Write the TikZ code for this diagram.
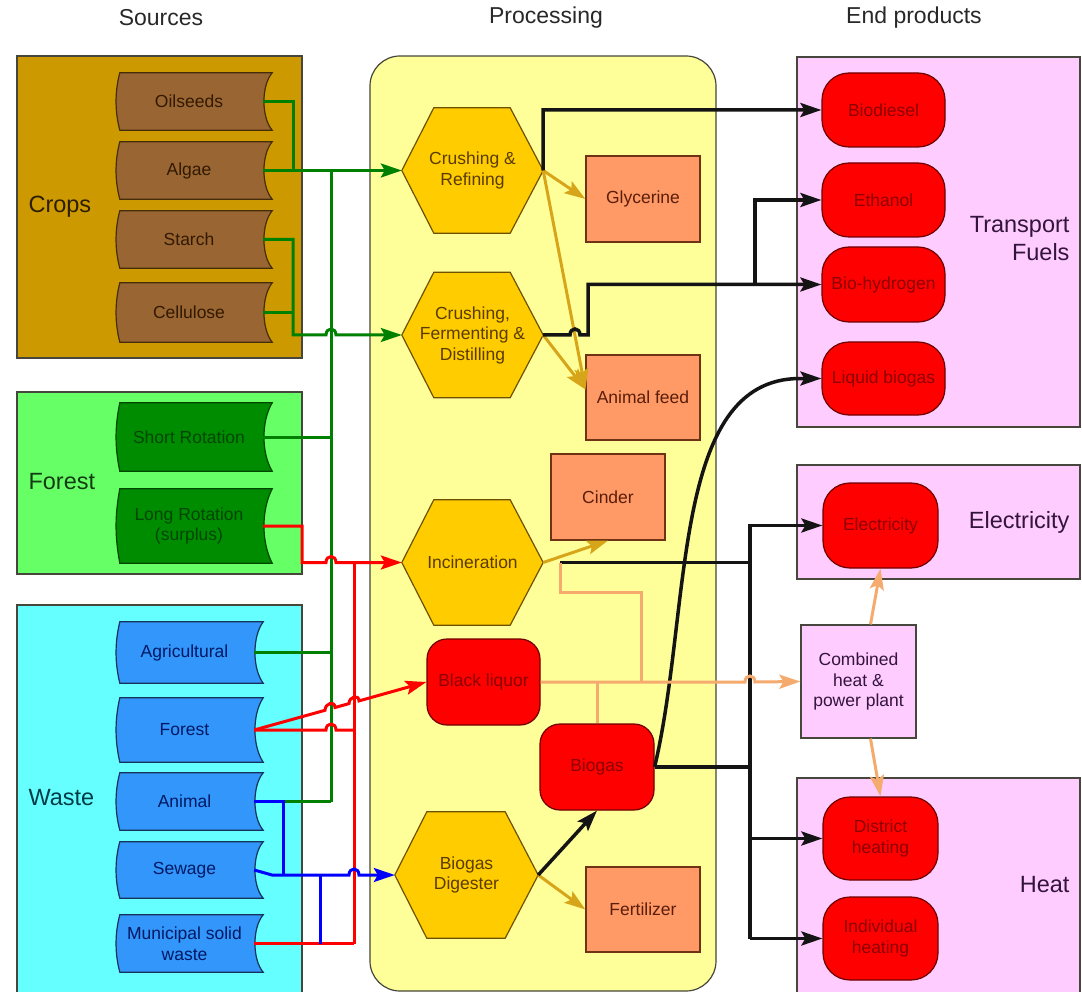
\documentclass[tikz,border=0pt]{standalone}
\usepackage{fontspec}
\setmainfont{Liberation Sans}
\usetikzlibrary{arrows.meta,calc}
\pgfdeclarelayer{back}
\pgfdeclarelayer{mid}
\pgfsetlayers{back,mid,main}
\definecolor{cropbg}{RGB}{204,153,0}
\definecolor{cropit}{RGB}{153,102,51}
\definecolor{cropedge}{RGB}{70,45,10}
\definecolor{croptext}{RGB}{50,25,0}
\definecolor{forbg}{RGB}{102,255,102}
\definecolor{forit}{RGB}{0,140,0}
\definecolor{foredge}{RGB}{0,70,0}
\definecolor{fortext}{RGB}{0,70,0}
\definecolor{wasbg}{RGB}{102,255,255}
\definecolor{wasit}{RGB}{51,150,250}
\definecolor{wasedge}{RGB}{20,50,90}
\definecolor{wastext}{RGB}{0,25,100}
\definecolor{procbg}{RGB}{255,255,153}
\definecolor{hexfill}{RGB}{255,204,0}
\definecolor{hexedge}{RGB}{110,80,0}
\definecolor{hextext}{RGB}{90,60,0}
\definecolor{orbox}{RGB}{255,153,102}
\definecolor{obedge}{RGB}{110,50,20}
\definecolor{obtext}{RGB}{90,30,10}
\definecolor{endbg}{RGB}{255,204,255}
\definecolor{endtext}{RGB}{50,20,60}
\definecolor{redfill}{RGB}{255,0,0}
\definecolor{rededge}{RGB}{110,0,0}
\definecolor{redtext}{RGB}{140,0,0}
\definecolor{edge}{RGB}{70,70,60}
\definecolor{lgreen}{RGB}{0,128,0}
\definecolor{lred}{RGB}{255,0,0}
\definecolor{lblue}{RGB}{0,0,255}
\definecolor{lgold}{RGB}{215,165,25}
\definecolor{lpeach}{RGB}{245,170,110}
\definecolor{lblack}{RGB}{20,20,20}
\newcommand\smallfs{\fontsize{17.5}{20.5}\selectfont}
\newcommand\bigfs{\fontsize{23.5}{28}\selectfont}
\newcommand\stshape[3]{%
\begin{pgfonlayer}{mid}
\filldraw[fill=#2,draw=#3,line width=1.2pt]
 ($(#1.north west)+(5,0)$) -- ($(#1.north east)+(9,0)$)
 .. controls ($(#1.east)+(-2,-16)$) and ($(#1.east)+(-2,16)$) .. ($(#1.south east)+(9,0)$)
 -- ($(#1.south west)+(5,0)$)
 .. controls ($(#1.west)+(0,10)$) and ($(#1.west)+(0,-10)$) .. cycle;
\end{pgfonlayer}}
\newcommand\hexshape[1]{%
\begin{pgfonlayer}{mid}
\filldraw[fill=hexfill,draw=hexedge,line width=1.2pt]
 (#1.west) -- ($(#1.north west)+(32,0)$) -- ($(#1.north east)+(-33,0)$) -- (#1.east)
 -- ($(#1.south east)+(-33,0)$) -- ($(#1.south west)+(32,0)$) -- cycle;
\end{pgfonlayer}}
\begin{document}
\begin{tikzpicture}[x=1pt,y=-1pt,
  grp/.style={rectangle,draw=edge,line width=1.2pt,inner sep=0pt},
  title/.style={font=\fontsize{23}{27}\selectfont,text={rgb,255:red,40;green,40;blue,40}},
  biglab/.style={font=\bigfs,align=center},
  st/.style={rectangle,inner sep=0pt,minimum width=148pt,font=\smallfs,align=center},
  wst/.style={st,minimum width=139pt,text=wastext},
  hx/.style={rectangle,inner sep=0pt,minimum width=141pt,minimum height=125pt,font=\smallfs,align=center,text=hextext},
  ob/.style={rectangle,draw=obedge,fill=orbox,line width=1.2pt,minimum width=114pt,minimum height=86pt,font=\smallfs,text=obtext},
  rn/.style={rectangle,rounded corners=20pt,draw=rededge,fill=redfill,line width=1.2pt,font=\smallfs,text=redtext,align=center,minimum width=114pt,minimum height=86pt},
  en/.style={rectangle,rounded corners=27pt,draw=rededge,fill=redfill,line width=1.2pt,font=\smallfs,text=redtext,align=center,minimum width=123pt},
  eh/.style={en,minimum width=115pt,minimum height=84pt},
  arr/.style={-{Stealth[length=21pt,width=14pt,inset=4pt]}},
  gl/.style={draw=lgreen,line width=3pt},
  rl/.style={draw=lred,line width=3pt},
  bl/.style={draw=lblue,line width=3pt},
  kl/.style={draw=lblack,line width=3.5pt},
  gol/.style={draw=lgold,line width=3pt},
  pl/.style={draw=lpeach,line width=3pt}]
\useasboundingbox (0,0) rectangle (1082,992);
\begin{pgfonlayer}{back}
\fill[white] (0,0) rectangle (1082,992);
\node[grp,fill=cropbg,minimum width=285pt,minimum height=302pt] (gcrops) at (159.5,207) {};
\node[grp,fill=forbg,minimum width=285pt,minimum height=182pt] (gforest) at (159.5,483) {};
\node[grp,fill=wasbg,minimum width=285pt,minimum height=389pt] (gwaste) at (159.5,799.5) {};
\node[grp,fill=procbg,rounded corners=30pt,minimum width=346pt,minimum height=935pt] (gproc) at (543,523.5) {};
\node[grp,fill=endbg,minimum width=283pt,minimum height=370pt] (gtrans) at (938.5,242) {};
\node[grp,fill=endbg,minimum width=283pt,minimum height=114pt] (gelec) at (938.5,522) {};
\node[grp,fill=endbg,minimum width=283pt,minimum height=216pt] (gheat) at (938.5,886) {};
\end{pgfonlayer}

% titles
\node[title] (tsrc) at (161,18) {Sources};
\node[title] (tproc) at (546,18) {Processing};
\node[title] (tend) at (914,18) {End products};

% group labels
\node[biglab,anchor=west,text={rgb,255:red,45;green,30;blue,0}] (lcrops) at (25,207) {Crops};
\node[biglab,anchor=west,text={rgb,255:red,20;green,60;blue,20}] (lforest) at (25,482) {Forest};
\node[biglab,anchor=west,text={rgb,255:red,0;green,60;blue,70}] (lwaste) at (25,798) {Waste};
\node[biglab,anchor=east,align=right,text=endtext] (ltrans) at (1073,239) {Transport\\Fuels};
\node[biglab,anchor=east,text=endtext] (lelec) at (1073,522) {Electricity};
\node[biglab,anchor=east,text=endtext] (lheat) at (1073,885) {Heat};

% sources
\node[st,minimum height=57pt,text=croptext] (oil) at (189,101.5) {Oilseeds};
\node[st,minimum height=57pt,text=croptext] (alg) at (189,170.5) {Algae};
\node[st,minimum height=57pt,text=croptext] (sta) at (189,239.5) {Starch};
\node[st,minimum height=59pt,text=croptext] (cel) at (189,312.5) {Cellulose};
\node[st,minimum height=68pt,text=fortext] (sr) at (189,437) {Short Rotation};
\node[st,minimum height=74pt,text=fortext] (lr) at (189,526) {Long Rotation\\(surplus)};
\node[wst,minimum height=61pt] (agr) at (184.5,652.5) {Agricultural};
\node[wst,minimum height=64pt] (wf) at (184.5,730) {Forest};
\node[wst,minimum height=57pt] (ani) at (184.5,801.5) {Animal};
\node[wst,minimum height=56pt] (sew) at (184.5,870) {Sewage};
\node[wst,minimum height=57pt] (mun) at (184.5,943.5) {Municipal solid\\waste};
\stshape{oil}{cropit}{cropedge}
\stshape{alg}{cropit}{cropedge}
\stshape{sta}{cropit}{cropedge}
\stshape{cel}{cropit}{cropedge}
\stshape{sr}{forit}{foredge}
\stshape{lr}{forit}{foredge}
\stshape{agr}{wasit}{wasedge}
\stshape{wf}{wasit}{wasedge}
\stshape{ani}{wasit}{wasedge}
\stshape{sew}{wasit}{wasedge}
\stshape{mun}{wasit}{wasedge}

% processing
\node[hx] (cr) at (472.5,170.5) {Crushing \&\\Refining};
\node[hx] (cfd) at (472.5,335) {Crushing,\\Fermenting \&\\Distilling};
\node[hx] (inc) at (472.5,562.5) {Incineration};
\node[hx,minimum width=143pt,minimum height=126pt] (bd) at (466.5,875) {Biogas\\Digester};
\hexshape{cr}
\hexshape{cfd}
\hexshape{inc}
\hexshape{bd}
\node[ob] (gly) at (643,199) {Glycerine};
\node[ob,minimum height=85pt] (af) at (643,397.5) {Animal feed};
\node[ob] (cin) at (608,497) {Cinder};
\node[ob,minimum height=85pt] (fer) at (643,909.5) {Fertilizer};
\node[rn,minimum width=113pt] (bl) at (483.5,682) {Black liquor};
\node[rn] (bg) at (597,767) {Biogas};

% end products
\node[en,minimum height=74pt] (bio) at (883.5,110) {Biodiesel};
\node[en,minimum height=74pt] (eth) at (883.5,200) {Ethanol};
\node[en,minimum height=75pt] (bh) at (883.5,284.5) {Bio-hydrogen};
\node[en,minimum height=73pt] (lb) at (883.5,378.5) {Liquid biogas};
\node[eh,minimum height=85pt] (el) at (880.5,525.5) {Electricity};
\node[eh,minimum height=83pt] (dh) at (880.5,838.5) {District\\heating};
\node[eh,minimum height=83pt] (ih) at (880.5,938.5) {Individual\\heating};
\node[rectangle,draw=edge,fill=endbg,line width=1.2pt,minimum width=115pt,minimum height=113pt,font=\smallfs,align=center,text=endtext] (chp) at (858.5,681.5) {Combined\\heat \&\\power plant};

% green connectors
\draw[gl] (oil.east) -- (293,101.5) -- (293,170.5);
\draw[gl] (cel.east) -- (293,312.5);
\draw[gl] (331,170.5) -- (331,801.5);
\draw[gl] (sr.east) -- (331,437);
\draw[gl] (agr.east) -- (331,652.5);
\draw[gl] (ani.east) -- (331,801.5);
\draw[gl,arr] (alg.east) -- (cr.west);
\draw[gl,arr] (sta.east) -- (293,239.5) -- (293,335) -- (326,335) .. controls (326,327) and (336,327) .. (336,335) -- (cfd.west);

% red connectors
\draw[rl,arr] (lr.east) -- (302,526) -- (302,562.5) -- (326,562.5) .. controls (326,554.5) and (336,554.5) .. (336,562.5) -- (inc.west);
\draw[rl] (354,562.5) -- (354,943.5);
\draw[rl] (mun.east) -- (354,943.5);
\draw[rl] (wf.east) -- (326,730) .. controls (326,722) and (336,722) .. (336,730) -- (354,730);
\draw[rl,arr] (wf.east) -- (325,710.3) .. controls (325,703) and (335,700.5) .. (335,707.5) -- (349,703.6) .. controls (349,696.5) and (359,694) .. (359,700.9) -- (bl.west);

% blue connectors
\draw[bl] (ani.east) -- (283,801.5) -- (283,875);
\draw[bl,arr] (sew.east) -- (272,875) -- (349,875) .. controls (349,867) and (359,867) .. (359,875) -- (bd.west);
\draw[bl] (320,875) -- (320,943.5);

% gold connectors
\draw[gol,arr] (cr.east) -- (gly.west);
\draw[gol,arr] (cr.east) -- ($(af.west)+(0,-8)$);
\draw[gol,arr] (cfd.east) -- ($(af.west)+(0,-8)$);
\draw[gol,arr] (inc.east) -- (cin.south);
\draw[gol,arr] (bd.east) -- (fer.west);

% black connectors
\coordinate (incout) at (560,562.5);
\draw[kl,arr] (cr.east) -- (543,110) -- (bio.west);
\draw[kl,arr] (cfd.east) -- (570,335) .. controls (570,327) and (580,327) .. (580,335) -- (588,335) -- (588,284.5) -- (bh.west);
\draw[kl,arr] (755,284.5) -- (755,200) -- (eth.west);
\draw[kl,arr] (bg.east) .. controls (692,610) and (670,378.5) .. (800,378.5) -- (lb.west);
\draw[kl] (incout) -- (750,562.5);
\draw[kl] (bg.east) -- (750,767);
\draw[kl,arr] (750,938.5) -- (750,525.5) -- (el.west);
\draw[kl,arr] (750,838.5) -- (dh.west);
\draw[kl,arr] (750,938.5) -- (ih.west);
\draw[kl,arr] (bd.east) -- (bg.south);

% peach connectors
\draw[pl] (incout) -- (560,592) -- (641,592) -- (641,682);
\draw[pl,arr] (bl.east) -- (745,682) .. controls (745,674) and (755,674) .. (755,682) -- (chp.west);
\draw[pl] (597,682) -- (bg.north);
\draw[pl,arr] ($(chp.north)+(12,0)$) -- (el.south);
\draw[pl,arr] ($(chp.south)+(12,0)$) -- (dh.north);
\end{tikzpicture}
\end{document}
